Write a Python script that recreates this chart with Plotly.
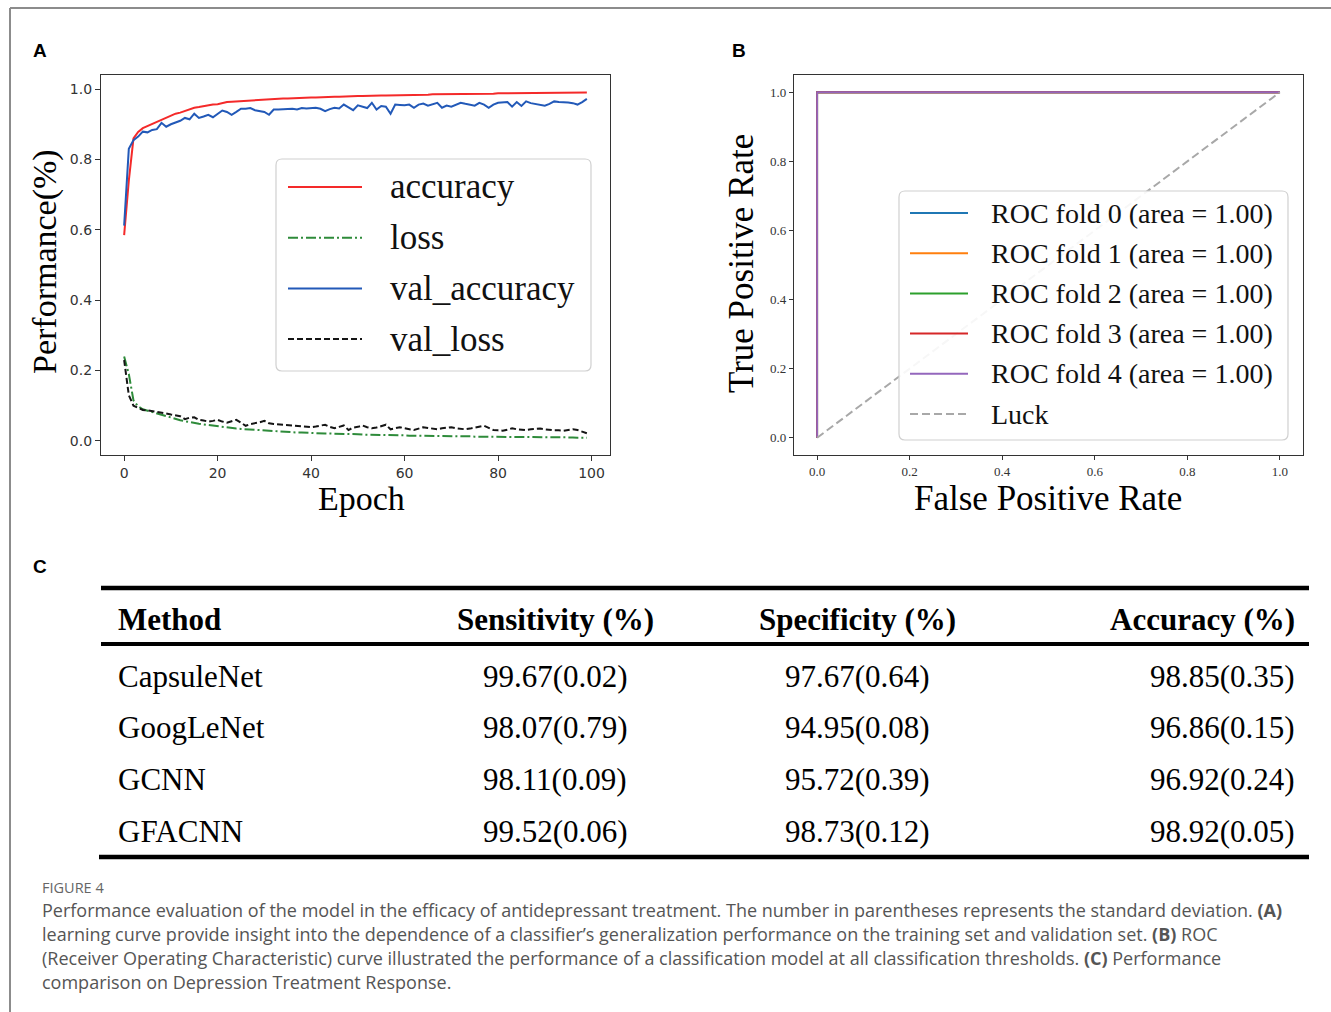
import plotly.graph_objects as go

# ---------------- data ----------------
epochs = list(range(100))

accuracy = [0.585, 0.74, 0.86, 0.878, 0.889, 0.895, 0.900, 0.906, 0.912, 0.918,
            0.925, 0.930, 0.933, 0.938, 0.944, 0.947, 0.949, 0.952, 0.955, 0.956,
            0.957, 0.961, 0.963, 0.964, 0.965, 0.966, 0.967, 0.968, 0.969, 0.970,
            0.970, 0.971, 0.972, 0.972, 0.973, 0.973, 0.974, 0.974, 0.975, 0.975,
            0.976, 0.976, 0.977, 0.977, 0.978, 0.978, 0.978, 0.979, 0.979, 0.980,
            0.980, 0.980, 0.981, 0.981, 0.981, 0.982, 0.982, 0.982, 0.982, 0.983,
            0.983, 0.983, 0.984, 0.984, 0.984, 0.984, 0.985, 0.985, 0.985, 0.985,
            0.986, 0.986, 0.986, 0.986, 0.986, 0.987, 0.987, 0.987, 0.987, 0.987,
            0.988, 0.988, 0.988, 0.988, 0.988, 0.988, 0.988, 0.989, 0.989, 0.989,
            0.989, 0.989, 0.989, 0.990, 0.990, 0.990, 0.990, 0.990, 0.990, 0.990]

val_accuracy = [0.612, 0.830, 0.855, 0.865, 0.879, 0.877, 0.884, 0.886, 0.904, 0.893,
                0.900, 0.904, 0.910, 0.918, 0.914, 0.930, 0.918, 0.922, 0.927, 0.920,
                0.930, 0.939, 0.935, 0.927, 0.935, 0.944, 0.944, 0.946, 0.940, 0.937,
                0.935, 0.927, 0.942, 0.942, 0.943, 0.942, 0.944, 0.942, 0.946, 0.945,
                0.947, 0.947, 0.944, 0.937, 0.943, 0.947, 0.945, 0.956, 0.948, 0.940,
                0.954, 0.950, 0.946, 0.961, 0.942, 0.952, 0.950, 0.930, 0.956, 0.955,
                0.954, 0.956, 0.947, 0.956, 0.959, 0.953, 0.956, 0.961, 0.947, 0.953,
                0.950, 0.955, 0.961, 0.958, 0.955, 0.953, 0.961, 0.956, 0.947, 0.956,
                0.961, 0.963, 0.963, 0.950, 0.963, 0.952, 0.965, 0.960, 0.958, 0.956,
                0.953, 0.958, 0.965, 0.963, 0.963, 0.962, 0.960, 0.956, 0.963, 0.972]

loss = [0.240, 0.190, 0.115, 0.098, 0.090, 0.086, 0.082, 0.078, 0.073, 0.069,
        0.066, 0.062, 0.059, 0.056, 0.053, 0.051, 0.049, 0.047, 0.045, 0.044,
        0.042, 0.040, 0.038, 0.037, 0.035, 0.034, 0.033, 0.032, 0.031, 0.030,
        0.029, 0.028, 0.028, 0.027, 0.026, 0.026, 0.025, 0.024, 0.024, 0.023,
        0.023, 0.022, 0.022, 0.021, 0.021, 0.021, 0.020, 0.020, 0.019, 0.019,
        0.019, 0.018, 0.018, 0.018, 0.017, 0.017, 0.017, 0.016, 0.016, 0.016,
        0.016, 0.015, 0.015, 0.015, 0.015, 0.014, 0.014, 0.014, 0.014, 0.014,
        0.013, 0.013, 0.013, 0.013, 0.013, 0.012, 0.012, 0.012, 0.012, 0.012,
        0.012, 0.011, 0.011, 0.011, 0.011, 0.011, 0.011, 0.011, 0.010, 0.010,
        0.010, 0.010, 0.010, 0.010, 0.010, 0.010, 0.010, 0.009, 0.009, 0.009]

val_loss = [0.230, 0.130, 0.100, 0.094, 0.088, 0.087, 0.085, 0.083, 0.082, 0.078,
            0.075, 0.073, 0.070, 0.062, 0.066, 0.067, 0.060, 0.058, 0.055, 0.057,
            0.060, 0.055, 0.052, 0.056, 0.060, 0.052, 0.043, 0.048, 0.050, 0.053,
            0.057, 0.050, 0.048, 0.047, 0.046, 0.045, 0.043, 0.043, 0.042, 0.040,
            0.039, 0.041, 0.043, 0.046, 0.040, 0.036, 0.040, 0.044, 0.031, 0.038,
            0.040, 0.044, 0.039, 0.036, 0.038, 0.041, 0.046, 0.033, 0.037, 0.039,
            0.036, 0.033, 0.031, 0.035, 0.039, 0.037, 0.034, 0.033, 0.036, 0.038,
            0.039, 0.036, 0.034, 0.033, 0.035, 0.037, 0.039, 0.043, 0.037, 0.031,
            0.030, 0.029, 0.032, 0.036, 0.033, 0.032, 0.031, 0.033, 0.035, 0.035,
            0.033, 0.031, 0.030, 0.030, 0.029, 0.031, 0.033, 0.031, 0.027, 0.022]

a_ticks = [0, 20, 40, 60, 80, 100]
perf_ticks = [0.0, 0.2, 0.4, 0.6, 0.8, 1.0]

roc_folds = [0, 1, 2, 3, 4]
roc_auc = [1.00, 1.00, 1.00, 1.00, 1.00]
roc_fpr = [0.0, 0.0, 1.0]
roc_tpr = [0.0, 1.0, 1.0]
luck_x = [0.0, 1.0]
luck_y = [0.0, 1.0]
rate_ticks = [0.0, 0.2, 0.4, 0.6, 0.8, 1.0]

methods = ["CapsuleNet", "GoogLeNet", "GCNN", "GFACNN"]
sens_mean = [99.67, 98.07, 98.11, 99.52]
sens_std = [0.02, 0.79, 0.09, 0.06]
spec_mean = [97.67, 94.95, 95.72, 98.73]
spec_std = [0.64, 0.08, 0.39, 0.12]
acc_mean = [98.85, 96.86, 96.92, 98.92]
acc_std = [0.35, 0.15, 0.24, 0.05]
table_headers = ["Method", "Sensitivity (%)", "Specificity (%)", "Accuracy (%)"]

caption_title = "FIGURE 4"
caption_lines = [
    "Performance evaluation of the model in the efficacy of antidepressant treatment. The number in parentheses represents the standard deviation. <b>(A)</b>",
    "learning curve provide insight into the dependence of a classifier\u2019s generalization performance on the training set and validation set. <b>(B)</b> ROC",
    "(Receiver Operating Characteristic) curve illustrated the performance of a classification model at all classification thresholds. <b>(C)</b> Performance",
    "comparison on Depression Treatment Response.",
]

# ---------------- layout helpers ----------------
W, H = 1331, 1012
def PX(x):
    return x / W
def PY(y):
    return 1 - y / H

SERIF = "Liberation Serif"
SANS = "DejaVu Sans"

RED = "#f42a2a"
BLUE = "#2259b8"
GREEN = "#2e8b3a"
BLACK = "#151515"
ROC_COLORS = ["#1f77b4", "#ff7f0e", "#2ca02c", "#d62728", "#9467bd"]
LUCK = "#a8a8a8"

fig = go.Figure()

# panel A traces
fig.add_trace(go.Scatter(x=epochs, y=accuracy, mode="lines", name="accuracy",
                         line=dict(color=RED, width=2), xaxis="x", yaxis="y", showlegend=False))
fig.add_trace(go.Scatter(x=epochs, y=loss, mode="lines", name="loss",
                         line=dict(color=GREEN, width=2, dash="10px,3px,2px,3px"), xaxis="x", yaxis="y", showlegend=False))
fig.add_trace(go.Scatter(x=epochs, y=val_accuracy, mode="lines", name="val_accuracy",
                         line=dict(color=BLUE, width=2), xaxis="x", yaxis="y", showlegend=False))
fig.add_trace(go.Scatter(x=epochs, y=val_loss, mode="lines", name="val_loss",
                         line=dict(color=BLACK, width=2, dash="6px,3px"), xaxis="x", yaxis="y", showlegend=False))

# panel B traces
for f, auc, c in zip(roc_folds, roc_auc, ROC_COLORS):
    fig.add_trace(go.Scatter(x=roc_fpr, y=roc_tpr, mode="lines",
                             name=f"ROC fold {f} (area = {auc:.2f})",
                             line=dict(color=c, width=1.8), xaxis="x2", yaxis="y2", showlegend=False))
fig.add_trace(go.Scatter(x=luck_x, y=luck_y, mode="lines", name="Luck",
                         line=dict(color=LUCK, width=2, dash="8px,4px"), xaxis="x2", yaxis="y2", showlegend=False))

axis_common = dict(showline=True, mirror=True, linecolor="#333333", linewidth=1.3,
                   showgrid=False, zeroline=False, ticks="outside",
                   tickwidth=1.2, tickcolor="#333333")

fig.update_layout(
    width=W, height=H, margin=dict(l=0, r=0, t=0, b=0),
    paper_bgcolor="white", plot_bgcolor="white", showlegend=False,
    xaxis=dict(domain=[PX(101), PX(610)], range=[-4.95, 103.95], tickvals=a_ticks, ticklen=5,
               tickfont=dict(family=SANS, size=14, color="#333333"), anchor="y", **axis_common),
    yaxis=dict(domain=[PY(455), PY(75)], range=[-0.04, 1.04], tickvals=perf_ticks, tickformat=".1f", ticklen=5,
               tickfont=dict(family=SANS, size=14, color="#333333"), anchor="x", **axis_common),
    xaxis2=dict(domain=[PX(794), PX(1303)], range=[-0.05, 1.05], tickvals=rate_ticks, tickformat=".1f", ticklen=4,
                tickfont=dict(family=SERIF, size=13, color="#333333"), anchor="y2", **axis_common),
    yaxis2=dict(domain=[PY(455), PY(75)], range=[-0.05, 1.05], tickvals=rate_ticks, tickformat=".1f", ticklen=4,
                tickfont=dict(family=SERIF, size=13, color="#333333"), anchor="x2", **axis_common),
)

shapes = []
annotations = []

def ann(x, y, text, size, family, color="black", xanchor="left", yanchor="middle", angle=0):
    annotations.append(dict(x=PX(x), y=PY(y), xref="paper", yref="paper", text=text,
                            showarrow=False, xanchor=xanchor, yanchor=yanchor, textangle=angle,
                            borderpad=0, font=dict(family=family, size=size, color=color)))

def hline(x0, x1, y, color, width, dash="solid"):
    shapes.append(dict(type="line", xref="paper", yref="paper", x0=PX(x0), x1=PX(x1),
                       y0=PY(y), y1=PY(y), line=dict(color=color, width=width, dash=dash)))

def rounded_box(x0, y0, x1, y1, r, line_color):
    rx, ry = r / W, r / H
    a, b, c, d = PX(x0), PY(y0), PX(x1), PY(y1)  # b top, d bottom (paper)
    path = (f"M {a+rx},{b} L {c-rx},{b} Q {c},{b} {c},{b-ry} L {c},{d+ry} Q {c},{d} {c-rx},{d} "
            f"L {a+rx},{d} Q {a},{d} {a},{d+ry} L {a},{b-ry} Q {a},{b} {a+rx},{b} Z")
    shapes.append(dict(type="path", xref="paper", yref="paper", path=path,
                       fillcolor="rgba(255,255,255,0.9)", line=dict(color=line_color, width=1.2)))

# outer figure frame
shapes.append(dict(type="line", xref="paper", yref="paper", x0=PX(10), x1=PX(10), y0=PY(8), y1=PY(1012),
                   line=dict(color="#8c8c8c", width=2)))
hline(10, 1331, 8, "#8c8c8c", 2)

# panel labels
ann(32, 50, "<b>A</b>", 19, "Liberation Sans")
ann(731, 50, "<b>B</b>", 19, "Liberation Sans")
ann(32, 566, "<b>C</b>", 19, "Liberation Sans")

# axis titles
ann(45, 262, "Performance(%)", 34, SERIF, xanchor="center", angle=-90)
ann(361, 498, "Epoch", 34, SERIF, xanchor="center")
ann(741, 264, "True Positive Rate", 35, SERIF, xanchor="center", angle=-90)
ann(1048, 499, "False Positive Rate", 35, SERIF, xanchor="center")

# legend A
rounded_box(276, 159, 591, 371, 6, "#d0d0d0")
legA = [("accuracy", RED, "solid"), ("loss", GREEN, "10px,3px,2px,3px"),
        ("val_accuracy", BLUE, "solid"), ("val_loss", BLACK, "6px,3px")]
for i, (lbl, col, dsh) in enumerate(legA):
    yy = 187 + i * 50.7
    hline(288, 362, yy, col, 2, dsh)
    ann(389, yy, lbl, 35, SERIF, color="#111111")

# legend B
rounded_box(899, 191, 1288, 440, 6, "#d0d0d0")
legB = [(f"ROC fold {f} (area = {auc:.2f})", c, "solid") for f, auc, c in zip(roc_folds, roc_auc, ROC_COLORS)]
legB.append(("Luck", LUCK, "8px,4px"))
for i, (lbl, col, dsh) in enumerate(legB):
    yy = 213 + i * 40.2
    hline(910, 968, yy, col, 2, dsh)
    ann(990, yy, lbl, 28, SERIF, color="#111111")

# table C
hline(101, 1309, 588, "black", 4.5)
hline(101, 1309, 644, "black", 4)
hline(99, 1309, 857, "black", 4.5)
col_x = [117, 555, 857, 1296]
col_anchor = ["left", "center", "center", "right"]
for h, x, xa in zip(table_headers, col_x, col_anchor):
    ann(x, 619, f"<b>{h}</b>", 31, SERIF, xanchor=xa)
for r, m in enumerate(methods):
    yy = 676 + r * 51.7
    cells = [m,
             f"{sens_mean[r]:.2f}({sens_std[r]:.2f})",
             f"{spec_mean[r]:.2f}({spec_std[r]:.2f})",
             f"{acc_mean[r]:.2f}({acc_std[r]:.2f})"]
    for t, x, xa in zip(cells, col_x, col_anchor):
        ann(x, yy, t, 31, SERIF, xanchor=xa)

# caption
ann(41, 887, caption_title, 14.5, "Open Sans", color="#666666")
for i, line in enumerate(caption_lines):
    ann(41, 910 + i * 24, line, 18, "Open Sans", color="#555555")

fig.update_layout(shapes=shapes, annotations=annotations)
fig.write_html("out.html")
